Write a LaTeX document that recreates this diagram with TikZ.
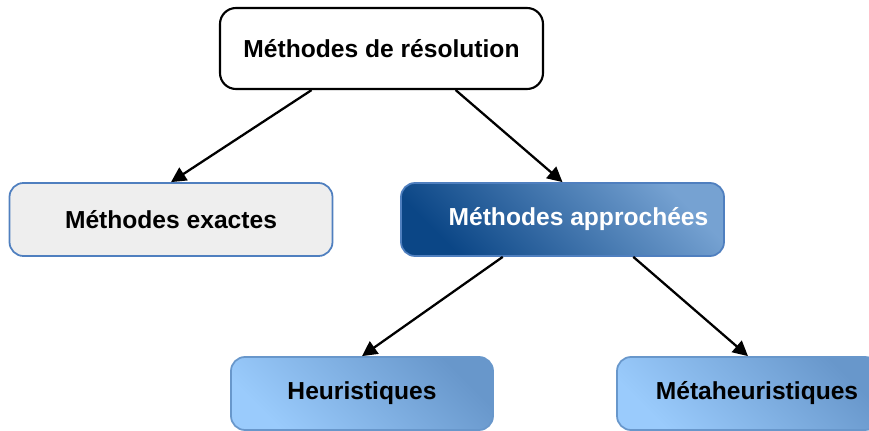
\documentclass[tikz,border=0pt]{standalone}
\usepackage{fontspec}
\setmainfont{Liberation Sans}
\usetikzlibrary{arrows.meta,positioning,calc}

\definecolor{exafill}{HTML}{EEEEEE}
\definecolor{exaline}{HTML}{4F7FBF}
\definecolor{appdark}{HTML}{0B4686}
\definecolor{applight}{HTML}{76A2D2}
\definecolor{heulight}{HTML}{9ACBFC}
\definecolor{heudark}{HTML}{6897CB}

\begin{document}
\begin{tikzpicture}[
    box/.style={draw, rounded corners=0.14cm, line width=0.5pt,
      minimum width=3.23cm, minimum height=0.73cm, inner sep=0pt,
      font=\fontsize{7}{8}\selectfont\bfseries},
    leaf/.style={box, draw=heudark, minimum width=2.62cm,
      left color=heulight, right color=heudark, shading angle=135},
    arr/.style={-{Triangle[length=1.5mm,width=1.5mm]}, line width=0.65pt}
  ]
  \useasboundingbox (0,0) rectangle (8.69,4.30);
  \clip (0,0) rectangle (8.69,4.30);

  \node[box, minimum height=0.81cm, rounded corners=0.16cm, line width=0.6pt, fill=white]
    (res) at (3.815,3.815) {Méthodes de résolution};
  \node[box, draw=exaline, fill=exafill] (exa) at (1.71,2.105) {Méthodes exactes};
  \node[box, draw=exaline, text=white, left color=appdark, right color=applight,
    shading angle=135] (app) at (5.625,2.105) {\hspace*{0.32cm}Méthodes approchées};
  \node[leaf] (heu) at (3.62,0.365) {\raisebox{0.035cm}{Heuristiques}};
  \node[leaf] (meta) at (7.48,0.365) {\hspace*{0.18cm}Métaheuristiques};

  \draw[arr] ($(res.south west)!0.285!(res.south east)$) -- (exa.north);
  \draw[arr] ($(res.south west)!0.728!(res.south east)$) -- (app.north);
  \draw[arr] ($(app.south west)!0.316!(app.south east)$) -- (heu.north);
  \draw[arr] ($(app.south west)!0.718!(app.south east)$) -- (meta.north);
\end{tikzpicture}
\end{document}
